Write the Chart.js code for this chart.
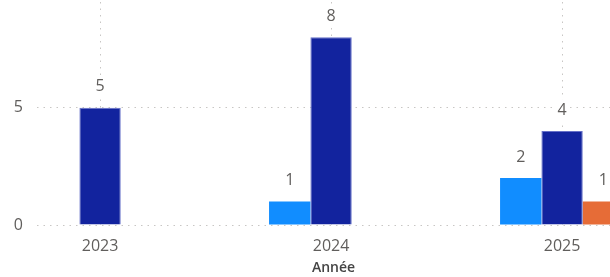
<!DOCTYPE html>
<html>
<head>
<meta charset="utf-8">
<script src="https://cdn.jsdelivr.net/npm/chart.js@4"></script>
<style>
  html, body { margin: 0; padding: 0; overflow: hidden; background: #fff; }
  #wrap { width: 630px; height: 277px; position: relative; }
</style>
</head>
<body>
<div id="wrap"><canvas id="bar"></canvas></div>
<script>
const years = [2023, 2024, 2025];
const serieBleuClair = [null, 1, 2];
const serieBleuFonce = [5, 8, 4];
const serieOrange = [null, null, 1];
const yTicks = [0, 5];

const toPoints = (vals) => vals.map((v, i) => ({ x: years[i], y: v }));

// étiquettes de valeur au-dessus des barres (fond blanc qui coupe la grille)
const valueLabels = {
  id: "valueLabels",
  afterDatasetsDraw(chart) {
    const c = chart.ctx;
    c.save();
    c.font = "16px 'Open Sans', sans-serif";
    c.textAlign = "center";
    c.textBaseline = "middle";
    chart.data.datasets.forEach((ds, di) => {
      const meta = chart.getDatasetMeta(di);
      meta.data.forEach((el, i) => {
        const v = ds.data[i].y;
        if (v === null) return;
        const txt = String(v);
        const w = c.measureText(txt).width;
        const ty = el.y - 21;
        c.fillStyle = "#fff";
        c.fillRect(el.x - w / 2 - 2, ty - 11, w + 4, 22);
        c.fillStyle = "#605e5c";
        c.fillText(txt, el.x, ty);
      });
    });
    c.restore();
  }
};

const ctx = document.getElementById("bar");

new Chart(ctx, {
  type: "bar",
  data: {
    datasets: [
      {
        label: "Série 1",
        data: toPoints(serieBleuClair),
        backgroundColor: "#118dff",
        borderWidth: 0,
      },
      {
        label: "Série 2",
        data: toPoints(serieBleuFonce),
        backgroundColor: "#12239e",
        borderColor: "#6670c8",
        borderWidth: 1,
      },
      {
        label: "Série 3",
        data: toPoints(serieOrange),
        backgroundColor: "#e66c37",
        borderWidth: 0,
      },
    ],
  },
  options: {
    responsive: true,
    maintainAspectRatio: false,
    animation: false,
    categoryPercentage: 0.537,
    barPercentage: 1,
    layout: { padding: { left: 0, top: 2, right: 0, bottom: 1 } },
    plugins: {
      legend: { display: false },
      tooltip: { enabled: false },
    },
    scales: {
      x: {
        type: "linear",
        offset: false,
        min: 2022.727,
        max: 2025.294,
        afterBuildTicks: (scale) => {
          scale.ticks = years.map((v) => ({ value: v }));
        },
        afterFit: (scale) => {
          scale.height = 51;
        },
        ticks: {
          callback: (v) => String(v),
          color: "#605e5c",
          font: { family: "'Open Sans', sans-serif", size: 16 },
          padding: 12,
          maxRotation: 0,
        },
        grid: {
          offset: false,
          color: "#c8c6c4",
          lineWidth: 1,
          tickLength: 0,
          drawTicks: false,
        },
        border: { display: false, dash: [1.5, 5] },
        title: {
          display: true,
          text: "Année",
          color: "#444",
          font: { family: "'Open Sans', sans-serif", size: 14, weight: "600" },
          padding: { top: 3, bottom: 0 },
        },
      },
      y: {
        min: 0,
        max: 9.5,
        afterBuildTicks: (scale) => {
          scale.ticks = yTicks.map((v) => ({ value: v }));
        },
        afterFit: (scale) => {
          scale.width = 37;
          scale.paddingTop = 0;
          scale.paddingBottom = 0;
        },
        ticks: {
          color: "#605e5c",
          font: { family: "'Open Sans', sans-serif", size: 16 },
          padding: 14,
        },
        grid: {
          color: "#c8c6c4",
          lineWidth: 1,
          drawTicks: false,
        },
        border: { display: false, dash: [1.5, 5] },
      },
    },
  },
  plugins: [valueLabels],
});
</script>
</body>
</html>
